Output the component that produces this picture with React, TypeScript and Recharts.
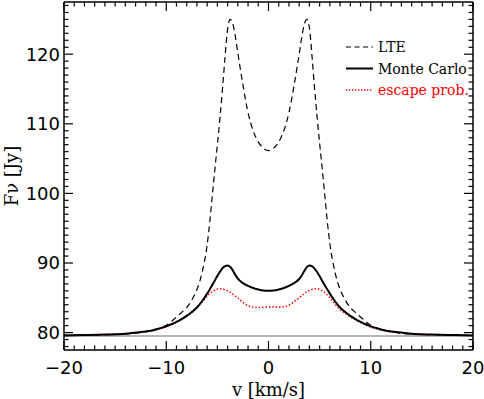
import { LineChart, Line, XAxis, YAxis, ReferenceLine, Legend } from "recharts";

// velocity grid [km/s]
const velocity = [
  -20, -18, -16, -14, -13, -12, -11, -10, -9.5, -9, -8.5, -8, -7.5, -7, -6.5, -6,
  -5.75, -5.5, -5.25, -5, -4.75, -4.5, -4.25, -4, -3.75, -3.5, -3.25, -3, -2.5, -2,
  -1.5, -1, -0.5, 0, 0.5, 1, 1.5, 2, 2.5, 3, 3.25, 3.5, 3.75, 4, 4.25, 4.5, 4.75, 5,
  5.25, 5.5, 5.75, 6, 6.5, 7, 7.5, 8, 8.5, 9, 9.5, 10, 11, 12, 13, 14, 16, 18, 20,
];

// F_nu [Jy]
const lte = [
  79.6, 79.65, 79.7, 79.8, 79.9, 80.15, 80.5, 81.05, 81.6, 82.25, 82.9, 83.6, 84.7, 86.2, 88.6, 92.6,
  95.8, 99.6, 103.4, 107.0, 110.8, 115.0, 119.6, 123.6, 125.0, 124.4, 122.6, 120.2, 115.6, 111.6,
  109.0, 107.4, 106.5, 106.15, 106.5, 107.4, 109.0, 111.6, 115.5, 120.0, 122.4, 124.3, 125.0, 123.8, 119.8, 115.2, 111.0, 107.2,
  103.6, 99.8, 96.0, 92.8, 88.7, 86.2, 84.7, 83.6, 82.9, 82.25, 81.6, 81.05, 80.5, 80.15, 79.9, 79.8, 79.7, 79.65, 79.6,
];

const monteCarlo = [
  79.6, 79.65, 79.72, 79.85, 80.0, 80.15, 80.45, 80.9, 81.2, 81.55, 81.95, 82.4, 82.95, 83.6, 84.5, 85.6,
  86.2, 86.85, 87.5, 88.15, 88.75, 89.25, 89.55, 89.65, 89.45, 88.95, 88.3, 87.75, 87.1, 86.7,
  86.4, 86.2, 86.05, 86.0, 86.05, 86.2, 86.4, 86.7, 87.1, 87.7, 88.2, 88.85, 89.4, 89.65, 89.55, 89.2, 88.7, 88.1,
  87.45, 86.8, 86.2, 85.6, 84.5, 83.6, 82.95, 82.4, 81.95, 81.55, 81.2, 80.9, 80.45, 80.15, 80.0, 79.85, 79.72, 79.65, 79.6,
];

const escapeProb = [
  79.58, 79.63, 79.7, 79.83, 79.97, 80.12, 80.4, 80.85, 81.15, 81.5, 81.9, 82.35, 82.9, 83.55, 84.4, 85.25,
  85.6, 85.9, 86.1, 86.25, 86.3, 86.25, 86.15, 86.0, 85.8, 85.55, 85.25, 84.95, 84.35, 83.85,
  83.65, 83.6, 83.65, 83.7, 83.7, 83.65, 83.7, 83.95, 84.45, 85.0, 85.3, 85.6, 85.85, 86.05, 86.2, 86.3, 86.3, 86.2,
  86.0, 85.75, 85.4, 85.0, 84.1, 83.3, 82.75, 82.25, 81.85, 81.45, 81.1, 80.8, 80.4, 80.12, 79.97, 79.83, 79.7, 79.63, 79.58,
];

const continuum = 79.5;

const xMajor = [-20, -10, 0, 10, 20];
const yMajor = [80, 90, 100, 110, 120];
const xMinor = Array.from({ length: 41 }, (_, i) => i - 20);
const yMinor = Array.from({ length: 50 }, (_, i) => i + 78);

const data = velocity.map((v, i) => ({
  v,
  lte: lte[i],
  mc: monteCarlo[i],
  esc: escapeProb[i],
}));

const fmt = (n: number) => (n < 0 ? "\u2212" + Math.abs(n) : String(n));

const tickFont = { fontFamily: "DejaVu Sans", fontSize: 18, fill: "#000" };
const XD: [number, number] = [-20, 20];
const YD: [number, number] = [77.5, 127.5];
const frame = { stroke: "#000", strokeWidth: 1.5 };

// inward tick lengths in data units (major / minor)
const xLen = [0.88, 0.44];
const yLen = [1.3, 0.65];

const legendItems = [
  { name: "LTE", color: "#000", dash: "5 3.5", width: 1.2 },
  { name: "Monte Carlo", color: "#000", dash: undefined, width: 2 },
  { name: "escape prob.", color: "#ff0000", dash: "1.3 1.7", width: 1.5 },
];

function LegendBox() {
  return (
    <svg width={125} height={66}>
      {legendItems.map((it, i) => (
        <g key={it.name} transform={`translate(0, ${10 + i * 21.5})`}>
          <line x1={0} x2={27} y1={0} y2={0} stroke={it.color} strokeWidth={it.width} strokeDasharray={it.dash} />
          <text x={32} y={5} fontFamily="DejaVu Serif" fontSize={14} fill={it.color}>
            {it.name}
          </text>
        </g>
      ))}
    </svg>
  );
}

function tickMarks() {
  const out: any[] = [];
  xMinor.forEach((v) => {
    const len = xMajor.includes(v) ? yLen[0] : yLen[1];
    out.push(
      <ReferenceLine key={`xb${v}`} xAxisId="b" yAxisId="l" segment={[{ x: v, y: YD[0] }, { x: v, y: YD[0] + len }]} stroke="#000" strokeWidth={1.2} />,
      <ReferenceLine key={`xt${v}`} xAxisId="b" yAxisId="l" segment={[{ x: v, y: YD[1] }, { x: v, y: YD[1] - len }]} stroke="#000" strokeWidth={1.2} />
    );
  });
  yMinor.forEach((f) => {
    const len = yMajor.includes(f) ? xLen[0] : xLen[1];
    out.push(
      <ReferenceLine key={`yl${f}`} xAxisId="b" yAxisId="l" segment={[{ x: XD[0], y: f }, { x: XD[0] + len, y: f }]} stroke="#000" strokeWidth={1.2} />,
      <ReferenceLine key={`yr${f}`} xAxisId="b" yAxisId="l" segment={[{ x: XD[1], y: f }, { x: XD[1] - len, y: f }]} stroke="#000" strokeWidth={1.2} />
    );
  });
  return out;
}

export default function App() {
  return (
    <div style={{ position: "absolute", left: 0, top: 0, background: "#fff" }}>
      <LineChart width={484} height={399} data={data} margin={{ top: 2, right: 11, bottom: 0, left: 0 }}>
        <XAxis
          xAxisId="b"
          dataKey="v"
          type="number"
          domain={XD}
          ticks={xMajor}
          interval={0}
          height={49}
          tickLine={false}
          tickSize={4}
          tickMargin={7}
          tick={tickFont}
          tickFormatter={fmt}
          axisLine={frame}
          allowDataOverflow
          label={{
            content: (p: any) => (
              <text
                x={p.viewBox.x + p.viewBox.width / 2}
                y={396}
                textAnchor="middle"
                fontFamily="DejaVu Serif"
                fontSize={18}
                fill="#000"
              >
                v [km/s]
              </text>
            ),
          }}
        />
        <XAxis xAxisId="t" orientation="top" mirror type="number" dataKey="v" domain={XD} ticks={xMajor} tick={false} tickLine={false} axisLine={frame} />
        <YAxis
          yAxisId="l"
          type="number"
          domain={YD}
          ticks={yMajor}
          interval={0}
          width={64}
          tickLine={false}
          tickSize={4}
          tickMargin={0}
          tick={tickFont}
          axisLine={frame}
          allowDataOverflow
          label={{
            content: (p: any) => {
              const cy = p.viewBox.y + p.viewBox.height / 2;
              return (
                <text
                  x={18}
                  y={cy}
                  transform={`rotate(-90, 18, ${cy})`}
                  textAnchor="middle"
                  fontFamily="DejaVu Serif"
                  fontSize={18}
                  fill="#000"
                >
                  F{"\u03bd"} [Jy]
                </text>
              );
            },
          }}
        />
        <YAxis yAxisId="r" orientation="right" mirror type="number" domain={YD} ticks={yMajor} tick={false} tickLine={false} axisLine={frame} allowDataOverflow />

        {tickMarks()}
        <ReferenceLine xAxisId="b" yAxisId="l" y={continuum} stroke="#b4b4b4" strokeWidth={2} />
        <Line
          xAxisId="b"
          yAxisId="l"
          type="monotone"
          dataKey="lte"
          stroke="#000"
          strokeWidth={1.2}
          strokeDasharray="6 4"
          dot={false}
          isAnimationActive={false}
        />
        <Line
          xAxisId="b"
          yAxisId="l"
          type="monotone"
          dataKey="esc"
          stroke="#ff0000"
          strokeWidth={1.6}
          strokeDasharray="1.4 2"
          dot={false}
          isAnimationActive={false}
        />
        <Line
          xAxisId="b"
          yAxisId="l"
          type="monotone"
          dataKey="mc"
          stroke="#000"
          strokeWidth={2}
          dot={false}
          isAnimationActive={false}
        />
        <Legend
          layout="vertical"
          align="center"
          verticalAlign="middle"
          content={<LegendBox />}
          wrapperStyle={{ position: "absolute", left: 346, top: 37, width: 125, height: 66 }}
        />
      </LineChart>
    </div>
  );
}
